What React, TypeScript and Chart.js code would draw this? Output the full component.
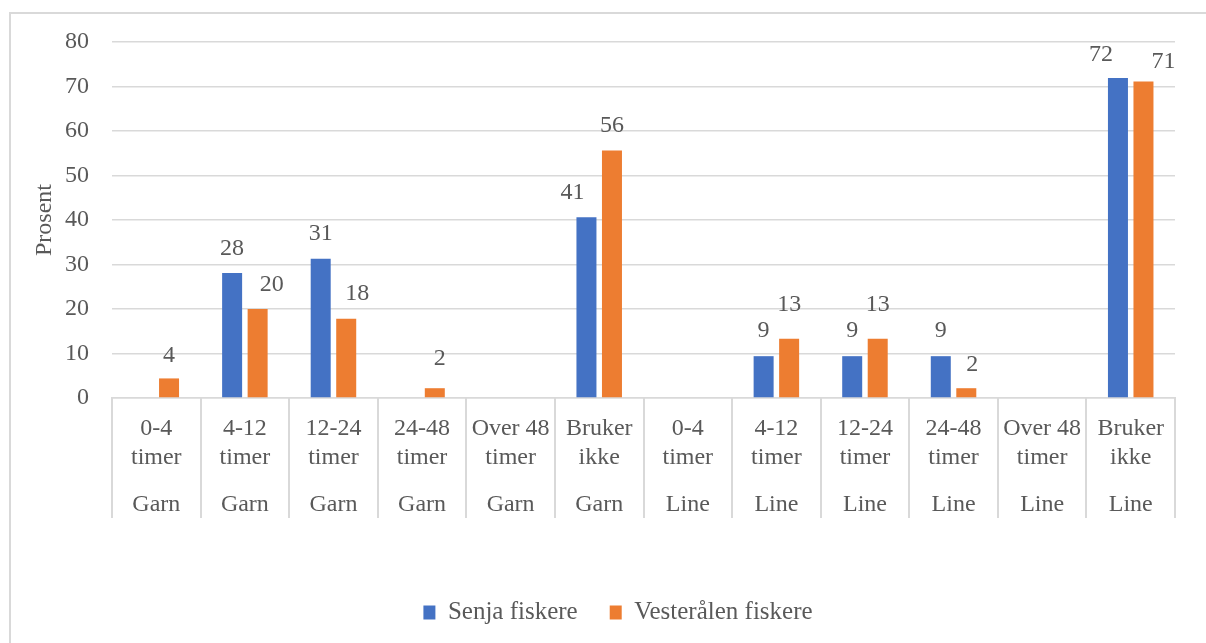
import React, { useEffect, useRef } from "react";
import { Chart, registerables } from "chart.js";

Chart.register(...registerables);

// ---- data ----
const CATEGORIES: string[][] = [
  ["0-4", "timer"],
  ["4-12", "timer"],
  ["12-24", "timer"],
  ["24-48", "timer"],
  ["Over 48", "timer"],
  ["Bruker", "ikke"],
  ["0-4", "timer"],
  ["4-12", "timer"],
  ["12-24", "timer"],
  ["24-48", "timer"],
  ["Over 48", "timer"],
  ["Bruker", "ikke"],
];
const GROUPS: string[] = [
  "Garn", "Garn", "Garn", "Garn", "Garn", "Garn",
  "Line", "Line", "Line", "Line", "Line", "Line",
];
const SERIES_NAMES = ["Senja fiskere", "Vesterålen fiskere"];
const SENJA: (number | null)[] = [null, 28.1, 31.3, null, null, 40.6, null, 9.4, 9.4, 9.4, null, 71.9];
const VESTERALEN: (number | null)[] = [4.4, 20.0, 17.8, 2.2, null, 55.6, null, 13.3, 13.3, 2.2, null, 71.1];
const Y_MIN = 0;
const Y_MAX = 80;
const Y_STEP = 10;
const Y_TITLE = "Prosent";

// ---- styling ----
const FONT = "'Liberation Serif', 'Times New Roman', serif";
const TEXT = "#595959";
const GRID = "#d9d9d9";
const COLORS = ["#4472C4", "#ED7D31"];
// small label nudges (dx, dy) mimicking manual label placement
const LABEL_NUDGE: number[][][] = [
  [[0, 0], [0, 0], [0, -1], [0, 0], [0, 0], [-14, -1], [0, 0], [0, -1], [0, -1], [0, -1], [0, 0], [-17, 1]],
  [[0, 1], [14, 0], [11, -1], [5, -6], [0, 0], [0, -1], [0, 0], [0, -10], [0, -10], [6, 0], [0, 0], [20, 4]],
];

const dataLabelPlugin = {
  id: "dataLabels",
  afterDatasetsDraw(chart: any) {
    const ctx = chart.ctx;
    ctx.save();
    ctx.font = `24px ${FONT}`;
    ctx.fillStyle = TEXT;
    ctx.textAlign = "center";
    ctx.textBaseline = "middle";
    chart.data.datasets.forEach((ds: any, di: number) => {
      const meta = chart.getDatasetMeta(di);
      meta.data.forEach((bar: any, i: number) => {
        const v = ds.data[i];
        if (v === null || v === undefined) return;
        const n = LABEL_NUDGE[di][i] || [0, 0];
        ctx.fillText(String(Math.round(v)), bar.x + n[0], bar.y - 24 + n[1]);
      });
    });
    ctx.restore();
  },
};

const separatorPlugin = {
  id: "separators",
  afterDraw(chart: any) {
    const x = chart.scales.x;
    const x2 = chart.scales.x2;
    const n = chart.data.labels.length;
    const step = (x.getPixelForValue(n - 1) - x.getPixelForValue(0)) / (n - 1);
    const start = x.getPixelForValue(0) - step / 2;
    const ctx = chart.ctx;
    ctx.save();
    ctx.strokeStyle = GRID;
    ctx.lineWidth = 2;
    for (let i = 0; i <= n; i++) {
      const px = Math.round(start + i * step);
      ctx.beginPath();
      ctx.moveTo(px, chart.chartArea.bottom);
      ctx.lineTo(px, x2.top + 42);
      ctx.stroke();
    }
    ctx.restore();
  },
};

export default function App() {
  const canvasRef = useRef<HTMLCanvasElement | null>(null);

  useEffect(() => {
    if (!canvasRef.current) return;
    const chart = new Chart(canvasRef.current, {
      type: "bar",
      data: {
        labels: CATEGORIES as any,
        datasets: [
          {
            label: SERIES_NAMES[0],
            data: SENJA,
            backgroundColor: COLORS[0],
            borderWidth: 0,
            categoryPercentage: 0.576,
            barPercentage: 0.784,
          },
          {
            label: SERIES_NAMES[1],
            data: VESTERALEN,
            backgroundColor: COLORS[1],
            borderWidth: 0,
            categoryPercentage: 0.576,
            barPercentage: 0.784,
          },
        ],
      },
      options: {
        animation: false,
        responsive: false,
        devicePixelRatio: 1,
        layout: { padding: { left: 61, top: 42, right: 31, bottom: 8 } },
        plugins: {
          legend: {
            position: "bottom",
            labels: {
              boxWidth: 12,
              boxHeight: 14,
              padding: 32,
              color: TEXT,
              font: { family: FONT, size: 25 },
            },
          },
          tooltip: { enabled: false },
        },
        scales: {
          x: {
            type: "category",
            offset: true,
            weight: 0,
            grid: { display: false },
            border: { display: true, color: GRID, width: 1.5 },
            ticks: {
              autoSkip: false,
              maxRotation: 0,
              minRotation: 0,
              padding: 8.8,
              color: TEXT,
              font: { family: FONT, size: 24 },
            },
            afterFit: (s: any) => {
              s.height = 78;
            },
          },
          x2: {
            type: "category",
            position: "bottom",
            labels: GROUPS,
            offset: true,
            weight: 1,
            grid: { display: false },
            border: { display: false },
            ticks: {
              autoSkip: false,
              maxRotation: 0,
              minRotation: 0,
              padding: 6.2,
              color: TEXT,
              font: { family: FONT, size: 24 },
            },
            afterFit: (s: any) => {
              s.height = 92;
            },
          },
          y: {
            min: Y_MIN,
            max: Y_MAX,
            ticks: {
              stepSize: Y_STEP,
              padding: 23,
              color: TEXT,
              font: { family: FONT, size: 24 },
            },
            grid: { color: GRID, lineWidth: 1.5, drawTicks: false },
            border: { display: false },
            title: {
              display: true,
              text: Y_TITLE,
              color: TEXT,
              font: { family: FONT, size: 24 },
              padding: { top: -31, bottom: 0 },
            },
            afterFit: (s: any) => {
              s.width = 51;
            },
          },
        },
      } as any,
      plugins: [dataLabelPlugin, separatorPlugin],
    });
    return () => chart.destroy();
  }, []);

  return (
    <div
      style={{
        position: "absolute",
        left: 0,
        top: 0,
        width: 1206,
        height: 643,
        overflow: "hidden",
        background: "#ffffff",
      }}
    >
      <div
        style={{
          position: "absolute",
          left: 9,
          top: 12,
          width: 1240,
          height: 700,
          border: "2px solid #d9d9d9",
          boxSizing: "border-box",
        }}
      />
      <canvas
        ref={canvasRef}
        width={1206}
        height={643}
        style={{ position: "absolute", left: 0, top: 0, width: 1206, height: 643 }}
      />
    </div>
  );
}
